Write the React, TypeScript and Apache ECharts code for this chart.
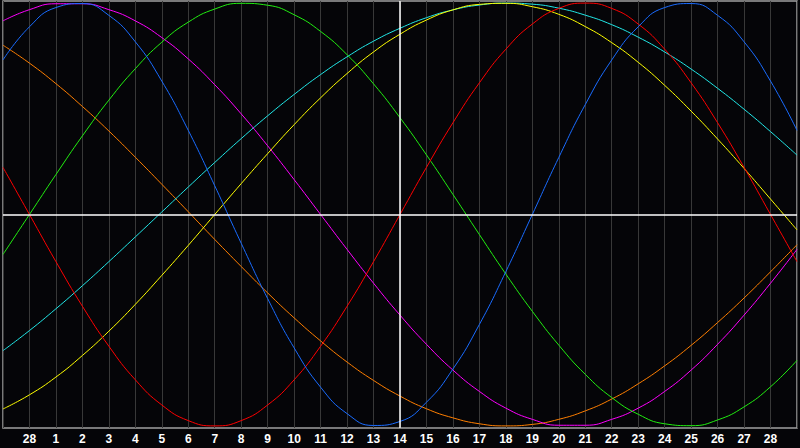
import React, { useEffect, useRef } from 'react';
import * as echarts from 'echarts';

// day labels under the gridlines (position 1..29), "today" is 14 at the centre
const dayLabels = ['28', '1', '2', '3', '4', '5', '6', '7', '8', '9', '10', '11', '12', '13', '14',
  '15', '16', '17', '18', '19', '20', '21', '22', '23', '24', '25', '26', '27', '28'];

// values in %, one per gridline position 0..30
const blue = [73.1, 88.8, 97.9, 99.8, 94.2, 81.7, 63.1, 39.8, 13.6, -13.6, -39.8, -63.1, -81.7, -94.2, -99.8, -97.9,
  -88.8, -73.1, -52.0, -27.0, 0, 27.0, 52.0, 73.1, 88.8, 97.9, 99.8, 94.2, 81.7, 63.1, 39.8];
const red = [22.3, 0, -22.3, -43.4, -62.3, -78.2, -90.1, -97.5, -100, -97.5, -90.1, -78.2, -62.3, -43.4, -22.3, 0,
  22.3, 43.4, 62.3, 78.2, 90.1, 97.5, 100, 97.5, 90.1, 78.2, 62.3, 43.4, 22.3, 0, -22.3];
const green = [-18.9, 0, 18.9, 37.2, 54.1, 69.0, 81.5, 91.0, 97.2, 99.9, 99.0, 94.5, 86.6, 75.6, 61.8, 45.8,
  28.2, 9.5, -9.5, -28.2, -45.8, -61.8, -75.6, -86.6, -94.5, -99.0, -99.9, -97.2, -91.0, -81.5, -69.0];
const magenta = [91.6, 96.9, 99.7, 99.7, 96.9, 91.6, 83.7, 73.6, 61.4, 47.6, 32.5, 16.5, 0, -16.5, -32.5, -47.6,
  -61.4, -73.6, -83.7, -91.6, -96.9, -99.7, -99.7, -96.9, -91.6, -83.7, -73.6, -61.4, -47.6, -32.5, -16.5];
const yellow = [-92.0, -85.3, -76.9, -66.7, -55.2, -42.5, -28.8, -14.6, 0, 14.6, 28.8, 42.5, 55.2, 66.7, 76.9, 85.3,
  92.0, 96.8, 99.4, 99.9, 98.3, 94.7, 88.9, 81.3, 72.0, 61.1, 48.9, 35.7, 21.8, 7.3, -7.3];
const orange = [80.1, 71.6, 61.9, 51.1, 39.5, 27.1, 14.3, 1.3, -11.8, -24.6, -37.1, -48.9, -59.8, -69.8, -78.5, -85.9,
  -91.9, -96.2, -99.0, -100.0, -99.3, -96.9, -92.9, -87.3, -80.1, -71.6, -61.9, -51.1, -39.5, -27.1, -14.3];
const cyan = [-64.4, -54.9, -44.6, -33.7, -22.3, -10.6, 1.2, 13.0, 24.6, 35.9, 46.7, 56.8, 66.2, 74.6, 82.0, 88.1,
  93.1, 96.8, 99.1, 100.0, 99.5, 97.6, 94.3, 89.8, 83.9, 76.9, 68.8, 59.7, 49.8, 39.2, 28.1];

const curves = [
  { name: 'orange', data: orange, color: '#ff7f00' },
  { name: 'cyan', data: cyan, color: '#22e8e8' },
  { name: 'yellow', data: yellow, color: '#ffff00' },
  { name: 'magenta', data: magenta, color: '#ff00ff' },
  { name: 'green', data: green, color: '#22ee11' },
  { name: 'red', data: red, color: '#ff0000' },
  { name: 'blue', data: blue, color: '#1a6cff' },
];

const App: React.FC = () => {
  const chartRef = useRef<HTMLDivElement>(null);

  useEffect(() => {
    if (!chartRef.current) return;
    const chart = echarts.init(chartRef.current, null, { renderer: 'svg' });

    chart.setOption({
      animation: false,
      backgroundColor: '#050508',
      grid: {
        left: 1, right: 1, top: 1, bottom: 20,
        show: true, borderColor: '#a0a0a0', borderWidth: 1.5,
      },
      xAxis: {
        type: 'value',
        min: 0,
        max: 30,
        interval: 1,
        axisLine: { show: false },
        axisTick: { show: false },
        splitLine: { show: true, lineStyle: { color: '#383838', width: 1 } },
        axisLabel: {
          color: '#ffffff',
          fontFamily: 'Liberation Sans',
          fontWeight: 'bold',
          fontSize: 12,
          margin: 5,
          formatter: (v: number) => (v >= 1 && v <= dayLabels.length ? dayLabels[v - 1] : ''),
        },
      },
      yAxis: {
        type: 'value',
        min: -101,
        max: 101,
        show: false,
        splitLine: { show: false },
      },
      series: [
        ...curves.map((c) => ({
          type: 'line',
          name: c.name,
          data: c.data.map((v, i) => [i, v]),
          smooth: 0.5,
          symbol: 'none',
          lineStyle: { color: c.color, width: 1 },
          z: 3,
        })),
        {
          type: 'line',
          data: [],
          silent: true,
          z: 2,
          markLine: {
            silent: true,
            symbol: 'none',
            label: { show: false },
            lineStyle: { color: '#ffffff', width: 1.5, type: 'solid' },
            data: [{ yAxis: 0 }, { xAxis: 15 }],
          },
        },
      ],
    });

    return () => {
      chart.dispose();
    };
  }, []);

  return (
    <div
      ref={chartRef}
      style={{ position: 'fixed', left: 0, top: 0, width: '800px', height: '448px' }}
    ></div>
  );
};

export default App;
